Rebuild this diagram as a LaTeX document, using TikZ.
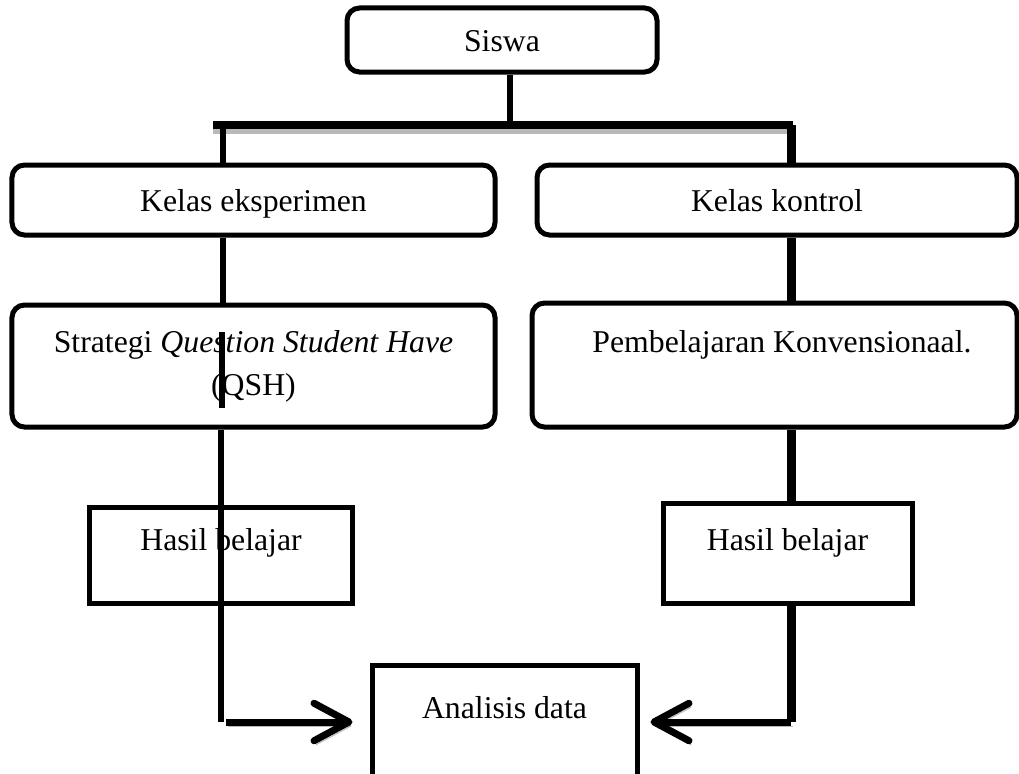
\documentclass[tikz,border=0pt]{standalone}
\usepackage{fontspec}
\setmainfont{Liberation Serif}
\usetikzlibrary{arrows.meta}

\begin{document}
\begin{tikzpicture}[
        x=0.4pt, y=-0.4pt,
        every node/.style={font=\fontsize{12.7}{17.2}\selectfont, inner sep=0pt},
        rbox/.style={rectangle, draw, line width=2pt, rounded corners=5pt, align=center},
        sbox/.style={rectangle, draw, line width=2pt, align=center},
        link/.style={line width=2.4pt},
        heavy/.style={line width=3.6pt},
        shade/.style={preaction={draw=gray!55, transform canvas={shift={(0.8pt,-1.6pt)}}}},
        arrow/.style={-{Straight Barb[length=14pt, width=15pt, line cap=round, line join=round]}, line width=2.8pt, shade}
    ]
    \clip (0,0) rectangle (1019,773);
    \fill[white] (0,0) rectangle (1019,773);

    % Nodes
    \node[rbox, minimum width=124pt, text height=17.2pt, text depth=8.4pt] (siswa) at (502,40) {Siswa};

    \node[rbox, minimum width=193.2pt, text height=18.4pt, text depth=9.6pt] (eksp) at (253.5,200) {Kelas eksperimen};
    \node[rbox, minimum width=192pt, text height=18.4pt, text depth=9.6pt] (kontrol) at (777,200) {Kelas kontrol};

    \node[rbox, minimum width=193.2pt, minimum height=48.8pt] (qsh) at (253.5,366) {Strategi \textit{Question Student Have}\\(QSH)};
    \node[rbox, minimum width=194pt, text height=19.6pt, text depth=30pt] (konv) at (774.5,365) {\hspace{6pt}Pembelajaran Konvensionaal.};

    \node[sbox, minimum width=104.8pt, text height=17.2pt, text depth=21.2pt] (hasil1) at (221,555) {Hasil belajar};
    \node[sbox, minimum width=99.6pt, text height=18.8pt, text depth=21.2pt] (hasil2) at (787.5,553) {Hasil belajar};

    \node[sbox, minimum width=106pt, text height=21.2pt, text depth=34.8pt] (analisis) at (504.5,735) {Analisis data};

    % Helper coordinates
    \coordinate (barL) at (213,125);
    \coordinate (barR) at (793,125);
    \coordinate (midX) at (510,0);
    \coordinate (colL) at (223,0);
    \coordinate (colR) at (791,0);
    \coordinate (qshA) at (222,332);
    \coordinate (qshB) at (222,408);
    \coordinate (cornL) at (221,722);
    \coordinate (cornR) at (791,722);

    % Branch bar
    \draw[link] (siswa.south -| midX) -- (barL -| midX);
    \draw[line width=3.2pt, gray!55] ([yshift=-2pt]barL) -- ([yshift=-2pt]barR);
    \draw[line width=3.2pt] (barL) -- (barR);

    % Left column
    \draw[link] (barL -| colL) -- (eksp.north -| colL);
    \draw[link] (eksp.south -| colL) -- (qsh.north -| colL);
    \draw[link] (qshA) -- (qshB);
    \draw[link] (qsh.south -| cornL) -- (cornL);
    \draw[arrow, shorten >=6.8pt] ([xshift=2pt]cornL) -- (analisis.west |- cornL);

    % Right column
    \draw[heavy] (barL -| colR) -- (kontrol.north -| colR);
    \draw[heavy] (kontrol.south -| colR) -- (konv.north -| colR);
    \draw[heavy] (konv.south -| colR) -- (hasil2.north -| colR);
    \draw[heavy] (hasil2.south -| colR) -- (cornR);
    \draw[arrow, shorten >=4.4pt] (cornR) -- (analisis.east |- cornR);

\end{tikzpicture}
\end{document}
